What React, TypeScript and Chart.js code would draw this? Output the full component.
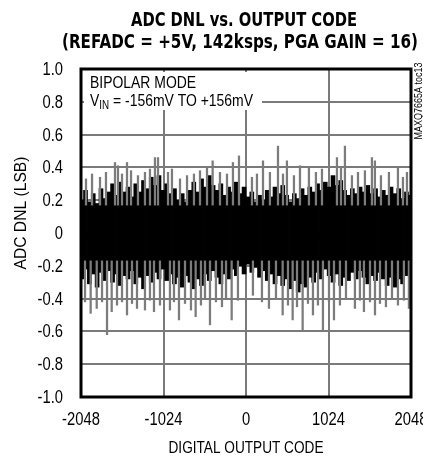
import React, { useEffect, useRef } from "react";
import { Chart, registerables } from "chart.js";

Chart.register(...registerables);

// ---- text ----
const titleLines = ["ADC DNL vs. OUTPUT CODE", "(REFADC = +5V, 142ksps, PGA GAIN = 16)"];
const xAxisTitle = "DIGITAL OUTPUT CODE";
const yAxisTitle = "ADC DNL (LSB)";
const noteLine1 = "BIPOLAR MODE";
const noteLine2 = ["V", "IN", " = -156mV TO +156mV"];
const figureId = "MAXQ7665A toc13";

// ---- axes ----
const xMin = -2048;
const xMax = 2048;
const xStep = 1024;
const yMin = -1;
const yMax = 1;
const yStep = 0.2;

// ---- dense DNL band (black), per code bin ----
const coreCodes = [
  -2040, -1992, -1944, -1896, -1848, -1800, -1752, -1704, -1656, -1608, -1560, -1512, -1464, -1416, -1368,
  -1320, -1272, -1224, -1176, -1128, -1080, -1032, -984, -936, -888, -840, -792, -744, -696, -648, -600, -552,
  -504, -456, -408, -360, -312, -264, -216, -168, -120, -72, -24, 24, 72, 120, 168, 216, 264, 312, 360, 408,
  456, 504, 552, 600, 648, 696, 744, 792, 840, 888, 936, 984, 1032, 1080, 1128, 1176, 1224, 1272, 1320, 1368,
  1416, 1464, 1512, 1560, 1608, 1656, 1704, 1752, 1800, 1848, 1896, 1944, 1992, 2040,
];
const coreHigh = [
  0.2, 0.26, 0.19, 0.24, 0.18, 0.27, 0.21, 0.25, 0.3, 0.23, 0.31, 0.25, 0.28, 0.22, 0.3, 0.25, 0.32, 0.27,
  0.34, 0.29, 0.35, 0.26, 0.3, 0.24, 0.27, 0.2, 0.24, 0.19, 0.26, 0.31, 0.25, 0.33, 0.28, 0.35, 0.29, 0.26,
  0.3, 0.23, 0.28, 0.25, 0.31, 0.24, 0.28, 0.22, 0.25, 0.19, 0.23, 0.2, 0.26, 0.22, 0.28, 0.24, 0.29, 0.23,
  0.19, 0.24, 0.21, 0.27, 0.23, 0.28, 0.25, 0.3, 0.26, 0.31, 0.28, 0.35, 0.29, 0.32, 0.26, 0.23, 0.27, 0.24,
  0.28, 0.25, 0.29, 0.24, 0.27, 0.22, 0.26, 0.23, 0.28, 0.24, 0.27, 0.21, 0.25, 0.23,
];
const coreLow = [
  -0.28, -0.22, -0.31, -0.25, -0.33, -0.24, -0.29, -0.23, -0.3, -0.25, -0.32, -0.26, -0.28, -0.23, -0.31,
  -0.27, -0.34, -0.26, -0.3, -0.24, -0.28, -0.22, -0.29, -0.25, -0.31, -0.27, -0.33, -0.26, -0.3, -0.34,
  -0.28, -0.32, -0.25, -0.29, -0.23, -0.27, -0.31, -0.25, -0.28, -0.22, -0.26, -0.2, -0.25, -0.19, -0.24,
  -0.21, -0.27, -0.23, -0.29, -0.25, -0.31, -0.26, -0.32, -0.28, -0.34, -0.29, -0.36, -0.31, -0.33, -0.27,
  -0.3, -0.24, -0.28, -0.22, -0.26, -0.3, -0.25, -0.32, -0.27, -0.29, -0.24, -0.28, -0.23, -0.27, -0.31,
  -0.26, -0.29, -0.24, -0.28, -0.32, -0.27, -0.33, -0.28, -0.31, -0.26, -0.29,
];

// ---- isolated DNL spikes (gray) ----
const upSpikeCodes = [
  -1986, -1911, -1812, -1738, -1626, -1589, -1539, -1477, -1427, -1341, -1254, -1192, -1130, -1092, -968,
  -919, -819, -732, -646, -571, -484, -414, -323, -236, -162, -87, 74, 136, 211, 297, 397, 459, 508, 595, 670,
  781, 868, 943, 1129, 1179, 1228, 1315, 1390, 1476, 1563, 1600, 1675, 1774, 1886, 1948, 1998,
];
const upSpikeValues = [
  0.33, 0.36, 0.34, 0.37, 0.43, 0.41, 0.36, 0.43, 0.38, 0.35, 0.37, 0.39, 0.46, 0.46, 0.37, 0.39, 0.33, 0.35,
  0.36, 0.38, 0.4, 0.44, 0.37, 0.36, 0.43, 0.47, 0.34, 0.36, 0.44, 0.37, 0.53, 0.36, 0.44, 0.35, 0.41, 0.4,
  0.37, 0.39, 0.46, 0.4, 0.53, 0.35, 0.37, 0.38, 0.46, 0.44, 0.35, 0.37, 0.4, 0.34, 0.37,
];
const downSpikeCodes = [
  -1998, -1928, -1853, -1787, -1725, -1667, -1601, -1539, -1477, -1415, -1353, -1254, -1192, -1142, -1068,
  -944, -894, -832, -757, -683, -625, -559, -509, -447, -373, -298, -248, -178, -100, 86, 198, 285, 372, 455,
  521, 579, 633, 703, 769, 831, 893, 955, 1030, 1092, 1166, 1241, 1352, 1414, 1464, 1539, 1601, 1663, 1737,
  1812, 1886, 1960, 2022,
];
const downSpikeValues = [
  -0.42, -0.49, -0.46, -0.42, -0.62, -0.48, -0.44, -0.42, -0.5, -0.43, -0.46, -0.47, -0.41, -0.48, -0.44,
  -0.47, -0.42, -0.53, -0.43, -0.47, -0.51, -0.44, -0.4, -0.56, -0.42, -0.45, -0.4, -0.53, -0.41, -0.38,
  -0.42, -0.46, -0.4, -0.5, -0.44, -0.53, -0.45, -0.59, -0.43, -0.5, -0.44, -0.6, -0.42, -0.53, -0.44, -0.4,
  -0.46, -0.41, -0.48, -0.42, -0.5, -0.43, -0.45, -0.4, -0.44, -0.41, -0.46,
];
const spikeBase = 0.17;

const SANS = "'Liberation Sans', Arial, sans-serif";
const NARROW = 0.82; // horizontal compression to mimic a condensed face

function drawScaled(
  ctx: CanvasRenderingContext2D,
  text: string,
  x: number,
  y: number,
  sx: number,
  align: CanvasTextAlign
) {
  ctx.save();
  ctx.translate(x, y);
  ctx.scale(sx, 1);
  ctx.textAlign = align;
  ctx.fillText(text, 0, 0);
  ctx.restore();
}

function fitText(ctx: CanvasRenderingContext2D, text: string, x: number, y: number, width: number) {
  const w = ctx.measureText(text).width;
  drawScaled(ctx, text, x, y, width / w, "center");
}

const decorPlugin = {
  id: "decor",
  afterDatasetsDraw(chart: any) {
    const ctx: CanvasRenderingContext2D = chart.ctx;
    const a = chart.chartArea;
    ctx.save();
    // note box
    ctx.fillStyle = "#fff";
    ctx.fillRect(a.left + 3, a.top + 3, 178, 38);
    ctx.fillStyle = "#000";
    ctx.textBaseline = "alphabetic";
    ctx.font = `17px ${SANS}`;
    const nx = a.left + 9;
    drawScaled(ctx, noteLine1, nx, a.top + 19, NARROW, "left");
    let x = nx;
    const y2 = a.top + 37;
    drawScaled(ctx, noteLine2[0], x, y2, NARROW, "left");
    x += ctx.measureText(noteLine2[0]).width * NARROW;
    ctx.font = `12px ${SANS}`;
    drawScaled(ctx, noteLine2[1], x, y2 + 3, NARROW, "left");
    x += ctx.measureText(noteLine2[1]).width * NARROW;
    ctx.font = `17px ${SANS}`;
    drawScaled(ctx, noteLine2[2], x, y2, NARROW, "left");

    // frame
    ctx.strokeStyle = "#000";
    ctx.lineWidth = 3;
    ctx.strokeRect(a.left, a.top, a.right - a.left, a.bottom - a.top);

    // tick labels (from the library's scales)
    ctx.font = `18px ${SANS}`;
    ctx.textBaseline = "middle";
    const xs = chart.scales.x;
    xs.ticks.forEach((t: any) => {
      drawScaled(ctx, String(t.label), xs.getPixelForValue(t.value), a.bottom + 23, NARROW, "center");
    });
    const ys = chart.scales.y;
    ys.ticks.forEach((t: any) => {
      drawScaled(ctx, String(t.label), a.left - 18, ys.getPixelForValue(t.value) + 1, NARROW, "right");
    });
    ctx.textBaseline = "alphabetic";

    // title
    ctx.font = `bold 19px 'DejaVu Sans', ${SANS}`;
    fitText(ctx, titleLines[0], 244, 25.5, 226);
    fitText(ctx, titleLines[1], 240, 48, 356);

    // axis titles
    ctx.font = `17px ${SANS}`;
    fitText(ctx, xAxisTitle, (a.left + a.right) / 2, 453, 155);
    ctx.save();
    ctx.translate(26, 213);
    ctx.rotate(-Math.PI / 2);
    fitText(ctx, yAxisTitle, 0, 0, 113);
    ctx.restore();

    // figure id
    ctx.save();
    ctx.translate(422, 101);
    ctx.rotate(-Math.PI / 2);
    ctx.font = `10px ${SANS}`;
    fitText(ctx, figureId, 0, 0, 77);
    ctx.restore();
    ctx.restore();
  },
};

export default function App() {
  const ref = useRef<HTMLCanvasElement | null>(null);
  useEffect(() => {
    if (!ref.current) return;
    const core = coreCodes.map((c, i) => ({ x: c, y: [coreLow[i], coreHigh[i]] }));
    const ups = upSpikeCodes.map((c, i) => ({ x: c, y: [spikeBase, upSpikeValues[i]] }));
    const downs = downSpikeCodes.map((c, i) => ({ x: c, y: [downSpikeValues[i], -spikeBase] }));
    const chart = new Chart(ref.current, {
      type: "bar",
      data: {
        datasets: [
          { data: ups as any, backgroundColor: "#7c7c7c", barThickness: 1.6, grouped: false, order: 0 } as any,
          { data: downs as any, backgroundColor: "#7c7c7c", barThickness: 1.6, grouped: false, order: 0 } as any,
          { data: core as any, backgroundColor: "#000", barThickness: 4, grouped: false, order: 1 } as any,
        ],
      },
      options: {
        animation: false,
        responsive: false,
        devicePixelRatio: 1,
        layout: { padding: { top: 69, right: 12, left: 0, bottom: 0 } },
        plugins: { legend: { display: false }, tooltip: { enabled: false }, title: { display: false } },
        scales: {
          x: {
            type: "linear",
            min: xMin,
            max: xMax,
            offset: false,
            grid: { color: "#7a7a7a", lineWidth: 2, drawTicks: false, offset: false },
            border: { display: false },
            ticks: {
              display: false,
              stepSize: xStep,
              callback: (v: any) => String(v),
            },
            afterFit: (s: any) => {
              s.height = 61;
              s.paddingLeft = 0;
              s.paddingRight = 0;
            },
          },
          y: {
            min: yMin,
            max: yMax,
            grid: { color: "#7a7a7a", lineWidth: 2, drawTicks: false },
            border: { display: false },
            ticks: {
              display: false,
              stepSize: yStep,
              callback: (v: any) => (Math.abs(v) < 1e-9 ? "0" : Number(v).toFixed(1)),
            },
            afterFit: (s: any) => {
              s.width = 81;
              s.paddingTop = 0;
              s.paddingBottom = 0;
            },
          },
        },
      },
      plugins: [decorPlugin],
    });
    return () => chart.destroy();
  }, []);
  return (
    <canvas
      ref={ref}
      width={423}
      height={458}
      style={{ position: "absolute", left: 0, top: 0, display: "block" }}
    />
  );
}
